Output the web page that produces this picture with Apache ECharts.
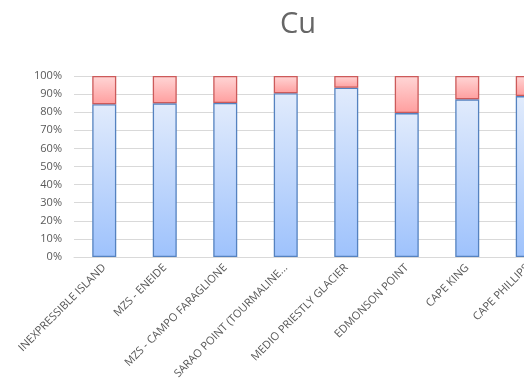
<!DOCTYPE html>
<html>
<head>
<meta charset="utf-8">
<script src="https://cdn.jsdelivr.net/npm/echarts@6/dist/echarts.min.js"></script>
<style>
  html, body { margin: 0; padding: 0; background: #fff; }
  #chart { width: 524px; height: 385px; }
</style>
</head>
<body>
<div id="chart"></div>
<script>
// Sampling sites
const sites = [
  'INEXPRESSIBLE ISLAND',
  'MZS - ENEIDE',
  'MZS - CAMPO FARAGLIONE',
  'SARAO POINT (TOURMALINE...',
  'MEDIO PRIESTLY GLACIER',
  'EDMONSON POINT',
  'CAPE KING',
  'CAPE PHILLIPS'
];

// Share of Cu in each fraction (percent, stacked to 100%)
const lowerShare = [84.4, 84.9, 85.1, 90.5, 93.5, 79.5, 87.1, 88.9];
const upperShare = lowerShare.map(v => +(100 - v).toFixed(1));

const yTicks = [0, 10, 20, 30, 40, 50, 60, 70, 80, 90, 100];

const chart = echarts.init(document.getElementById('chart'));
const font = 'Open Sans, Liberation Sans, sans-serif';

chart.setOption({
  animation: false,
  backgroundColor: '#ffffff',
  title: {
    text: 'Cu',
    left: 293,
    top: 5,
    textAlign: 'center',
    textStyle: { fontFamily: font, fontSize: 29, fontWeight: 'normal', color: '#666666' }
  },
  grid: {
    left: 74, top: 76, width: 484, height: 181,
    containLabel: false,
    outerBoundsMode: 'none'
  },
  xAxis: {
    type: 'category',
    data: sites,
    axisLine: { show: true, lineStyle: { color: '#d9d9d9', width: 1 } },
    axisTick: { show: false },
    axisLabel: {
      rotate: 45,
      interval: 0,
      margin: 9,
      fontFamily: font,
      fontSize: 11,
      color: '#595959'
    }
  },
  yAxis: {
    type: 'value',
    min: yTicks[0],
    max: yTicks[yTicks.length - 1],
    interval: 10,
    axisLine: { show: false },
    axisTick: { show: false },
    splitLine: { lineStyle: { color: '#d9d9d9', width: 1 } },
    axisLabel: {
      margin: 12,
      fontFamily: font,
      fontSize: 11,
      color: '#595959',
      formatter: v => v + '%'
    }
  },
  series: [
    {
      type: 'bar',
      stack: 'total',
      barWidth: 24,
      data: lowerShare,
      itemStyle: {
        color: new echarts.graphic.LinearGradient(0, 0, 0, 1, [
          { offset: 0, color: '#e1ebfc' },
          { offset: 1, color: '#9ec2fc' }
        ]),
        borderColor: '#5582c0',
        borderWidth: 1.3
      }
    },
    {
      type: 'bar',
      stack: 'total',
      barWidth: 24,
      data: upperShare,
      itemStyle: {
        color: new echarts.graphic.LinearGradient(0, 0, 0, 1, [
          { offset: 0, color: '#ffd6d6' },
          { offset: 1, color: '#ff9e9e' }
        ]),
        borderColor: '#cc5a5a',
        borderWidth: 1.3
      }
    }
  ]
});
</script>
</body>
</html>
